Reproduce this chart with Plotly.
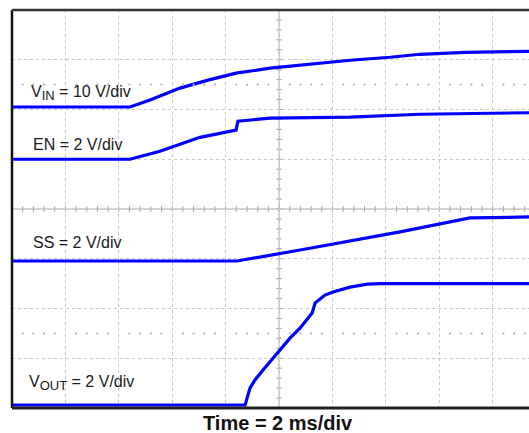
import plotly.graph_objects as go

# ---- data (time in ms, voltage in V) ----
vin_t = [0.00, 4.42, 5.17, 6.29, 7.34, 8.39, 9.66, 10.79, 12.66, 14.16, 15.28, 16.97, 19.36]
vin_v = [0.0, 0.0, 1.4, 3.8, 5.4, 6.8, 7.8, 8.4, 9.4, 10.0, 10.6, 11.0, 11.2]

en_t = [0.00, 4.42, 5.54, 7.04, 8.39, 8.46, 9.66, 12.66, 15.28, 19.36]
en_v = [0.0, 0.0, 0.32, 0.88, 1.17, 1.53, 1.65, 1.69, 1.81, 1.87]

ss_t = [0.00, 8.43, 10.79, 14.53, 17.15, 19.36]
ss_v = [0.0, 0.0, 0.44, 1.17, 1.73, 1.77]

vout_t = [0.00, 8.73, 8.91, 9.10, 9.40, 9.66, 9.96, 10.41, 10.79, 11.24, 11.35,
          11.72, 12.02, 12.66, 13.30, 13.78, 19.36]
vout_v = [0.0, 0.0, 0.68, 1.01, 1.41, 1.73, 2.09, 2.69, 3.10, 3.70, 4.10,
          4.42, 4.54, 4.74, 4.86, 4.88, 4.88]

# channel settings: (V/div, ground level in divisions)
VIN_SCALE, VIN_OFF = 10.0, 6.05
EN_SCALE, EN_OFF = 2.0, 5.0
SS_SCALE, SS_OFF = 2.0, 2.955
VOUT_SCALE, VOUT_OFF = 2.0, 0.06

SUB = "<sub><span style='font-size:13px'>{}</span></sub>"
labels = ["V" + SUB.format("IN") + " = 10 V/div", "EN = 2 V/div", "SS = 2 V/div",
          "V" + SUB.format("OUT") + " = 2 V/div"]
title_text = "Time = 2 ms/div"

# ---- layout geometry ----
W, H = 529, 433
L, R, T, B = 12, 0, 10, 25
XMAX = 19.36          # ms visible
YMAX = 8.0            # divisions
PW, PH = W - L - R, H - T - B

def px_to_paper(px, py):
    return (px - L) / PW, (H - B - py) / PH

BLUE = "#0000FF"
GRID = "#c8c8c8"

fig = go.Figure()

def add_ch(t, v, scale, off):
    fig.add_trace(go.Scatter(
        x=t, y=[off + val / scale for val in v], mode="lines",
        line=dict(color=BLUE, width=3.2), hoverinfo="skip", showlegend=False))

add_ch(vin_t, vin_v, VIN_SCALE, VIN_OFF)
add_ch(en_t, en_v, EN_SCALE, EN_OFF)
add_ch(ss_t, ss_v, SS_SCALE, SS_OFF)
add_ch(vout_t, vout_v, VOUT_SCALE, VOUT_OFF)

# dotted reference rows (dots every 0.2 div)
dot_x, dot_y = [], []
for yy in (6.5, 1.5):
    for i in range(1, 49):
        if i % 5 != 0:
            dot_x.append(i * 0.4)
            dot_y.append(yy)
fig.add_trace(go.Scatter(x=dot_x, y=dot_y, mode="markers",
                         marker=dict(size=2, color="#b8b8b8", symbol="square"),
                         hoverinfo="skip", showlegend=False))

# ground markers
fig.add_trace(go.Scatter(
    x=[-0.13] * 4, y=[VIN_OFF, EN_OFF, SS_OFF, VOUT_OFF], mode="markers",
    marker=dict(symbol="triangle-right", size=6, color="black"),
    cliponaxis=False, hoverinfo="skip", showlegend=False))

shapes = []
# center lines
shapes.append(dict(type="line", xref="x", yref="y", x0=0, x1=XMAX, y0=4, y1=4,
                   line=dict(color="#b0b0b0", width=1), layer="below"))
shapes.append(dict(type="line", xref="x", yref="y", x0=10, x1=10, y0=0, y1=YMAX,
                   line=dict(color="#b0b0b0", width=1), layer="below"))
for i in range(1, 49):
    shapes.append(dict(type="line", xref="x", yref="y", x0=i * 0.4, x1=i * 0.4,
                       y0=4 - 0.06, y1=4 + 0.06, line=dict(color="#a8a8a8", width=1), layer="below"))
for j in range(1, 40):
    shapes.append(dict(type="line", xref="x", yref="y", x0=10 - 0.11, x1=10 + 0.11,
                       y0=j * 0.2, y1=j * 0.2, line=dict(color="#a8a8a8", width=1), layer="below"))
# frame
shapes.append(dict(type="line", xref="paper", yref="paper", x0=0, x1=0, y0=0, y1=1,
                   line=dict(color="#111111", width=2.5), layer="above"))
shapes.append(dict(type="line", xref="paper", yref="paper", x0=0, x1=1, y0=1, y1=1,
                   line=dict(color="#333333", width=2.5), layer="above"))
shapes.append(dict(type="line", xref="paper", yref="paper", x0=0, x1=1, y0=0, y1=0,
                   line=dict(color="#222222", width=3), layer="above"))

annotations = []
label_pos = [(29, 93), (31, 144), (31, 242), (27, 383)]
for txt, (px, py) in zip(labels, label_pos):
    xp, yp = px_to_paper(px, py)
    annotations.append(dict(text=txt, xref="paper", yref="paper", x=xp, y=yp,
                            xanchor="left", yanchor="middle", showarrow=False,
                            font=dict(family="Liberation Sans, Arial", size=16, color="#1a1a1a")))
xp, yp = px_to_paper(277.5, 423)
annotations.append(dict(text="<b>" + title_text + "</b>", xref="paper", yref="paper",
                        x=xp, y=yp, xanchor="center", yanchor="middle", showarrow=False,
                        font=dict(family="Liberation Sans, Arial", size=20, color="#111111")))

fig.update_layout(
    width=W, height=H, margin=dict(l=L, r=R, t=T, b=B),
    paper_bgcolor="white", plot_bgcolor="white",
    shapes=shapes, annotations=annotations, showlegend=False,
    xaxis=dict(range=[0, XMAX], dtick=2, tick0=0, showgrid=True, gridcolor=GRID,
               griddash="dot", gridwidth=1, zeroline=False, showline=False,
               showticklabels=False, ticks="", fixedrange=True),
    yaxis=dict(range=[0, YMAX], dtick=1, tick0=0, showgrid=True, gridcolor=GRID,
               griddash="dot", gridwidth=1, zeroline=False, showline=False,
               showticklabels=False, ticks="", fixedrange=True),
)

fig.write_html("out.html", config={"displayModeBar": False},
               post_script="document.body.style.margin='0';document.body.style.overflow='hidden';")
